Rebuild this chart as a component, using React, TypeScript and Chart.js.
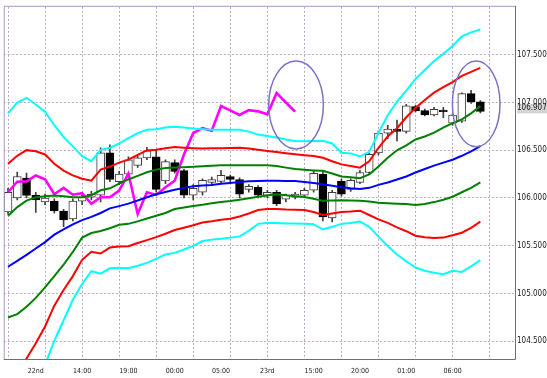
import React, { useEffect, useRef } from "react";
import { Chart, registerables } from "chart.js";

Chart.register(...registerables);

// ---- data (hourly bars, index 0..51) ----
const timeLabels = ["22nd", "14:00", "19:00", "00:00", "05:00", "23rd", "15:00", "20:00", "01:00", "06:00"];
const labelBars = [3, 8, 13, 18, 23, 28, 33, 38, 43, 48];

const opens = [105.853, 106.0, 106.208, 106.03, 105.96, 105.967, 105.864, 105.78, 105.967, 106.008,
  106.03, 106.473, 106.17, 106.25, 106.34, 106.42, 106.432, 106.18, 106.37, 106.287,
  106.029, 106.06, 106.163, 106.174, 106.225, 106.194, 106.091, 106.112, 106.029, 106.06,
  105.987, 106.008, 106.029, 106.081, 106.249, 105.791, 106.174, 106.091, 106.163, 106.267,
  106.473, 106.68, 106.721, 106.697, 106.956, 106.914, 106.869, 106.92, 106.783, 106.804,
  107.093, 107.007];
const highs = [106.1, 106.27, 106.26, 106.06, 106.04, 105.99, 105.88, 105.99, 106.03, 106.07,
  106.525, 106.556, 106.28, 106.43, 106.45, 106.53, 106.5, 106.4, 106.4, 106.3,
  106.14, 106.2, 106.22, 106.29, 106.24, 106.21, 106.14, 106.13, 106.08, 106.08,
  106.04, 106.06, 106.1, 106.28, 106.28, 106.08, 106.2, 106.2, 106.29, 106.47,
  106.7, 106.76, 106.817, 106.98, 106.97, 106.93, 106.95, 106.95, 106.88, 107.1,
  107.127, 107.02];
const lows = [105.83, 105.98, 106.0, 105.85, 105.93, 105.84, 105.7, 105.76, 105.93, 105.98,
  105.96, 106.17, 106.14, 106.22, 106.32, 106.4, 106.06, 106.15, 106.26, 106.0,
  105.98, 106.03, 106.13, 106.16, 106.17, 106.0, 106.06, 106.0, 106.0, 105.92,
  105.96, 105.99, 106.01, 106.06, 105.76, 105.75, 106.02, 106.07, 106.15, 106.25,
  106.45, 106.62, 106.597, 106.68, 106.9, 106.86, 106.86, 106.84, 106.76, 106.79,
  106.99, 106.89];
const closes = [106.06, 106.225, 106.026, 105.98, 106.0, 105.864, 105.771, 105.967, 106.008, 106.039,
  106.473, 106.194, 106.25, 106.4, 106.42, 106.494, 106.091, 106.38, 106.277, 106.029,
  106.1, 106.184, 106.194, 106.236, 106.194, 106.039, 106.122, 106.029, 106.06, 105.939,
  106.029, 106.042, 106.081, 106.259, 105.802, 106.06, 106.039, 106.184, 106.267, 106.456,
  106.68, 106.721, 106.697, 106.966, 106.914, 106.869, 106.928, 106.904, 106.869, 107.093,
  107.007, 106.907];

const upper3 = [106.886, 107.0, 107.049, 106.979, 106.904, 106.762, 106.638, 106.54, 106.437, 106.385,
  106.504, 106.525, 106.571, 106.628, 106.68, 106.715, 106.721, 106.737, 106.747, 106.737,
  106.728, 106.721, 106.714, 106.714, 106.714, 106.714, 106.695, 106.664, 106.649, 106.633,
  106.613, 106.597, 106.595, 106.597, 106.6, 106.571, 106.473, 106.467, 106.434, 106.483,
  106.68, 106.866, 107.01, 107.124, 107.248, 107.341, 107.434, 107.511, 107.592, 107.692,
  107.734, 107.765];
const upper2 = [106.359, 106.442, 106.501, 106.489, 106.456, 106.359, 106.287, 106.236, 106.201, 106.181,
  106.297, 106.329, 106.37, 106.401, 106.452, 106.498, 106.504, 106.52, 106.533, 106.527,
  106.522, 106.518, 106.52, 106.522, 106.524, 106.525, 106.517, 106.504, 106.492, 106.481,
  106.469, 106.458, 106.448, 106.44, 106.421, 106.385, 106.352, 106.334, 106.318, 106.385,
  106.525, 106.644, 106.731, 106.845, 106.943, 107.026, 107.103, 107.16, 107.214, 107.279,
  107.32, 107.362];
const upper1 = [105.812, 105.905, 105.972, 106.008, 106.019, 106.026, 106.019, 106.008, 106.008, 106.029,
  106.081, 106.101, 106.15, 106.194, 106.232, 106.27, 106.297, 106.313, 106.318, 106.323,
  106.326, 106.332, 106.337, 106.342, 106.342, 106.342, 106.342, 106.342, 106.342, 106.335,
  106.318, 106.303, 106.295, 106.289, 106.284, 106.256, 106.225, 106.217, 106.208, 106.246,
  106.329, 106.421, 106.499, 106.551, 106.613, 106.644, 106.685, 106.737, 106.783, 106.824,
  106.886, 106.962];
const middle = [105.28, 105.342, 105.404, 105.471, 105.538, 105.616, 105.672, 105.724, 105.768, 105.802,
  105.843, 105.891, 105.915, 105.941, 105.974, 106.008, 106.039, 106.062, 106.086, 106.106,
  106.122, 106.132, 106.137, 106.148, 106.158, 106.168, 106.176, 106.179, 106.181, 106.181,
  106.179, 106.177, 106.168, 106.158, 106.143, 106.127, 106.112, 106.101, 106.093, 106.106,
  106.137, 106.163, 106.194, 106.225, 106.267, 106.303, 106.339, 106.37, 106.401, 106.442,
  106.489, 106.542];
const lower1 = [104.748, 104.784, 104.861, 104.954, 105.063, 105.182, 105.301, 105.435, 105.585, 105.633,
  105.654, 105.683, 105.719, 105.729, 105.755, 105.786, 105.814, 105.843, 105.884, 105.9,
  105.915, 105.929, 105.946, 105.959, 105.969, 105.982, 105.998, 106.013, 106.027, 106.039,
  106.029, 106.019, 106.01, 105.991, 105.97, 105.974, 105.977, 105.974, 105.97, 105.962,
  105.951, 105.944, 105.939, 105.936, 105.926, 105.936, 105.957, 105.982, 106.013, 106.06,
  106.106, 106.163];
const lower2 = [103.994, 104.159, 104.319, 104.479, 104.655, 104.872, 105.037, 105.182, 105.352, 105.437,
  105.419, 105.481, 105.492, 105.495, 105.528, 105.559, 105.59, 105.626, 105.664, 105.688,
  105.714, 105.744, 105.757, 105.773, 105.783, 105.807, 105.838, 105.874, 105.884, 105.884,
  105.879, 105.877, 105.874, 105.853, 105.822, 105.838, 105.853, 105.858, 105.867, 105.822,
  105.776, 105.74, 105.693, 105.652, 105.605, 105.59, 105.582, 105.585, 105.61, 105.636,
  105.688, 105.753];
const lower3 = [103.26, 103.508, 103.756, 104.004, 104.252, 104.505, 104.717, 104.934, 105.099, 105.233,
  105.208, 105.264, 105.27, 105.264, 105.29, 105.321, 105.363, 105.409, 105.425, 105.461,
  105.499, 105.549, 105.564, 105.572, 105.585, 105.598, 105.657, 105.729, 105.737, 105.737,
  105.734, 105.732, 105.729, 105.726, 105.67, 105.698, 105.729, 105.738, 105.753, 105.698,
  105.595, 105.497, 105.409, 105.337, 105.272, 105.239, 105.218, 105.202, 105.237, 105.226,
  105.285, 105.35];
const lagging = [106.06, 106.17, 106.174, 106.236, 106.197, 106.039, 106.106, 106.034, 106.05, 105.939,
  106.008, 106.008, 106.077, 106.256, 105.833, 106.06, 106.032, 106.112, 106.181, 106.456,
  106.68, 106.731, 106.704, 106.962, 106.917, 106.869, 106.92, 106.907, 106.876, 107.1,
  107.0, 106.904];

const priceTicks = [104.5, 105.0, 105.5, 106.0, 106.5, 107.0, 107.5];
const lastPrice = 106.907;

// annotation ellipses (bar index / price centre and half extents)
const ellipseCentersBar = [31.1, 50.55];
const ellipseCentersPrice = [106.974, 106.985];
const ellipseHalfBars = [2.95, 2.57];
const ellipseHalfPrice = [0.46, 0.449];

const FONT = "'Liberation Sans Narrow', 'DejaVu Sans Condensed', 'Liberation Sans', Arial, sans-serif";

const pts = (arr: number[]) => arr.map((v, i) => ({ x: i, y: v }));

const overlayPlugin = {
  id: "overlay",
  afterDatasetsDraw(chart: any) {
    const { ctx, chartArea, scales } = chart;
    const xs = scales.x;
    const ys = scales.y;
    ctx.save();
    ctx.beginPath();
    ctx.rect(chartArea.left, chartArea.top, chartArea.right - chartArea.left, chartArea.bottom - chartArea.top);
    ctx.clip();
    ctx.strokeStyle = "#7c72c8";
    ctx.lineWidth = 1.5;
    for (let k = 0; k < ellipseCentersBar.length; k++) {
      const cx = xs.getPixelForValue(ellipseCentersBar[k]);
      const cy = ys.getPixelForValue(ellipseCentersPrice[k]);
      const rx = xs.getPixelForValue(ellipseCentersBar[k] + ellipseHalfBars[k]) - cx;
      const ry = cy - ys.getPixelForValue(ellipseCentersPrice[k] + ellipseHalfPrice[k]);
      ctx.beginPath();
      ctx.ellipse(cx, cy, rx, ry, 0, 0, Math.PI * 2);
      ctx.stroke();
    }
    ctx.restore();
  },
  afterDraw(chart: any) {
    const { ctx, chartArea, scales } = chart;
    const ys = scales.y;
    ctx.save();
    // frame
    ctx.lineWidth = 1;
    ctx.strokeStyle = "#a898c8";
    ctx.beginPath();
    ctx.moveTo(chartArea.left + 0.5, chartArea.bottom);
    ctx.lineTo(chartArea.left + 0.5, chartArea.top - 0.5);
    ctx.lineTo(chartArea.right, chartArea.top - 0.5);
    ctx.stroke();
    ctx.strokeStyle = "#707070";
    ctx.beginPath();
    ctx.moveTo(chartArea.right + 0.5, chartArea.top - 1);
    ctx.lineTo(chartArea.right + 0.5, chartArea.bottom + 0.5);
    ctx.lineTo(chartArea.left, chartArea.bottom + 0.5);
    ctx.stroke();
    // current price label
    const y = ys.getPixelForValue(lastPrice) - 3;
    ctx.font = "8px " + FONT;
    const txt = lastPrice.toFixed(3);
    const w = ctx.measureText(txt).width;
    ctx.fillStyle = "#d4d4d4";
    ctx.fillRect(chartArea.right + 2, y - 4, w + 1, 9);
    ctx.fillStyle = "#222";
    ctx.textBaseline = "middle";
    ctx.textAlign = "left";
    ctx.fillText(txt, chartArea.right + 2, y);
    ctx.fillStyle = "#ff40ff";
    ctx.fillRect(chartArea.right + 3 + w, y - 3, 2, 5);
    ctx.restore();
  },
};

export default function App() {
  const ref = useRef<HTMLCanvasElement | null>(null);

  useEffect(() => {
    document.body.style.margin = "0";
    const canvas = ref.current;
    if (!canvas) return;

    const lineDs = (data: number[], color: string, width = 2) => ({
      type: "line" as const,
      data: pts(data),
      borderColor: color,
      borderWidth: width,
      pointRadius: 0,
      tension: 0,
      fill: false,
      order: 0,
      clip: 0,
    });

    const isUp = closes.map((c, i) => c >= opens[i]);

    const chart = new Chart(canvas, {
      type: "bar",
      data: {
        datasets: [
          lineDs(upper3, "#00ffff"),
          lineDs(upper2, "#ff0000"),
          lineDs(upper1, "#008000"),
          lineDs(middle, "#0000ff"),
          lineDs(lower1, "#008000"),
          lineDs(lower2, "#ff0000"),
          lineDs(lower3, "#00ffff"),
          lineDs(lagging, "#ff00ff", 2.6),
          {
            type: "bar",
            data: opens.map((o, i) => ({ x: i, y: [o, closes[i]] })),
            backgroundColor: isUp.map((u) => (u ? "#ffffff" : "#000000")),
            borderColor: isUp.map((u) => (u ? "#3c3c3c" : "#000000")),
            borderWidth: 1,
            borderSkipped: false,
            barThickness: 8,
            grouped: false,
            order: 1,
            minBarLength: 1,
          } as any,
          {
            type: "bar",
            data: lows.map((l, i) => ({ x: i, y: [l, highs[i]] })),
            backgroundColor: "#404040",
            borderWidth: 0,
            barThickness: 1,
            grouped: false,
            order: 2,
          } as any,
        ],
      },
      options: {
        animation: false,
        responsive: false,
        maintainAspectRatio: false,
        layout: { padding: { left: 0, top: 2, right: 0, bottom: 0 } },
        plugins: { legend: { display: false }, tooltip: { enabled: false } },
        scales: {
          x: {
            type: "linear",
            min: -0.46,
            max: 54.74,
            offset: false,
            grid: {
              offset: false,
              drawTicks: false,
              lineWidth: 1,
              color: (c: any) => (c.tick && c.tick.value % 4 === 0 ? "#b8a6bc" : "rgba(0,0,0,0)"),
            },
            border: { display: false, dash: [2, 2] },
            afterBuildTicks: (axis: any) => {
              const t = [];
              for (let i = 0; i <= 54; i++) t.push({ value: i });
              axis.ticks = t;
            },
            afterFit: (axis: any) => {
              axis.height = 19;
            },
            ticks: {
              autoSkip: false,
              maxRotation: 0,
              padding: 8,
              color: "#222",
              font: { family: FONT, size: 7 },
              callback: (v: any) => {
                const k = labelBars.indexOf(Number(v));
                return k >= 0 ? timeLabels[k] : "";
              },
            },
          },
          y: {
            type: "linear",
            position: "right",
            min: 104.314,
            max: 108.002,
            grid: { drawTicks: false, color: "#b8a6bc", lineWidth: 1 },
            border: { display: false, dash: [2, 2] },
            afterBuildTicks: (axis: any) => {
              axis.ticks = priceTicks.map((v) => ({ value: v }));
            },
            afterFit: (axis: any) => {
              axis.width = 32;
            },
            ticks: {
              padding: 2,
              color: "#222",
              font: { family: FONT, size: 8 },
              callback: (v: any) => Number(v).toFixed(3),
            },
          },
        },
      } as any,
      plugins: [overlayPlugin],
    });

    return () => chart.destroy();
  }, []);

  return (
    <div style={{ width: 547, height: 378, background: "#fff" }}>
      <canvas ref={ref} width={547} height={378} style={{ display: "block" }} />
    </div>
  );
}
